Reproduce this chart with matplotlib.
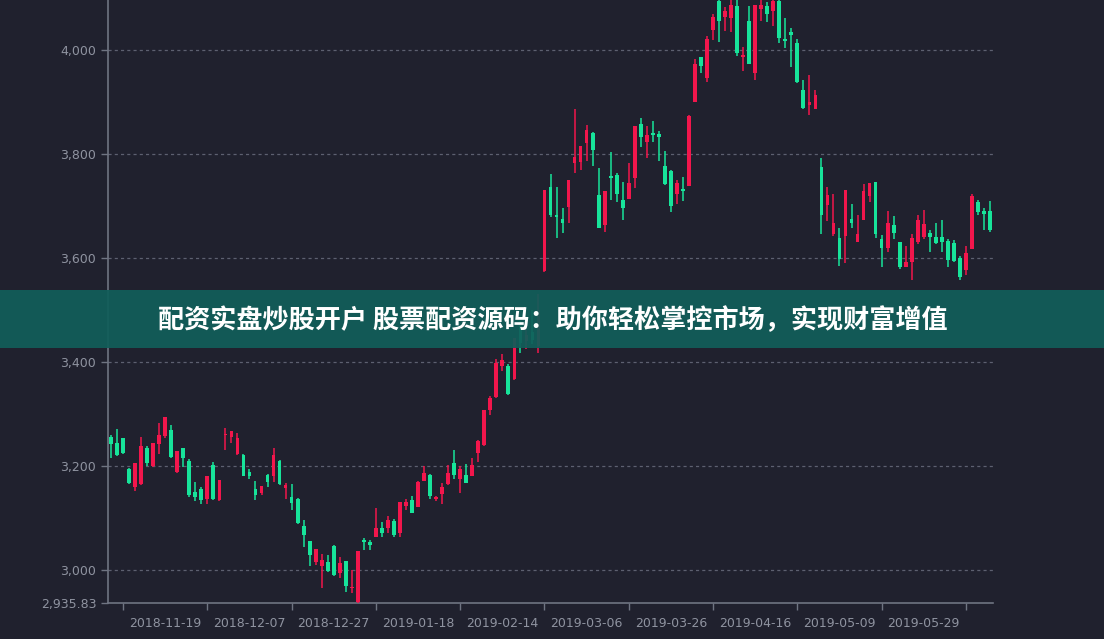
import numpy as np
import matplotlib
matplotlib.use("Agg")
import matplotlib.pyplot as plt
from matplotlib.ticker import FixedLocator, FuncFormatter

# candle data, index = trading day
opens = [3256, 3245, 3253, 3194, 3160, 3165, 3235, 3201, 3242, 3258,
         3269, 3188, 3234, 3210, 3151, 3155, 3136, 3202, 3135, 3260,
         3255, 3223, 3222, 3189, 3155, 3148, 3183, 3180, 3210, 3157,
         3141, 3136, 3085, 3056, 3016, 3008, 3015, 3047, 2994, 3018,
         2965, 2939, 3058, 3053, 3064, 3080, 3081, 3095, 3071, 3123,
         3135, 3122, 3171, 3183, 3136, 3146, 3165, 3205, 3176, 3183,
         3181, 3226, 3240, 3308, 3333, 3392, 3392, 3367, 3470, 3440,
         3458, 3430, 3575, 3736, 3683, 3676, 3699, 3783, 3785, 3822,
         3841, 3721, 3663, 3758, 3760, 3712, 3713, 3753, 3857, 3824,
         3841, 3838, 3777, 3768, 3723, 3732, 3738, 3901, 3986, 3947,
         4038, 4094, 4063, 4061, 4085, 3986, 4056, 3956, 4079, 4085,
         4076, 4094, 4022, 4035, 4014, 3923, 3894, 3886, 3776, 3702,
         3647, 3638, 3642, 3676, 3630, 3674, 3719, 3746, 3636, 3619,
         3664, 3630, 3583, 3593, 3631, 3640, 3649, 3641, 3641, 3633,
         3628, 3601, 3577, 3617, 3708, 3690, 3691]
closes = [3243, 3221, 3226, 3167, 3205, 3239, 3205, 3244, 3260, 3295,
          3217, 3228, 3215, 3144, 3141, 3135, 3180, 3137, 3173, 3262,
          3268, 3253, 3181, 3181, 3144, 3162, 3170, 3221, 3166, 3163,
          3128, 3090, 3067, 3029, 3040, 3019, 2998, 2990, 3013, 2969,
          2968, 3037, 3054, 3048, 3080, 3072, 3096, 3067, 3130, 3130,
          3110, 3170, 3186, 3142, 3141, 3159, 3186, 3183, 3195, 3168,
          3202, 3248, 3308, 3331, 3399, 3403, 3338, 3446, 3437, 3452,
          3443, 3500, 3731, 3683, 3678, 3668, 3750, 3795, 3815, 3847,
          3808, 3657, 3729, 3754, 3723, 3697, 3745, 3853, 3833, 3837,
          3837, 3833, 3742, 3700, 3744, 3729, 3873, 3974, 3970, 4022,
          4063, 4056, 4076, 4086, 3995, 3990, 3974, 4086, 4086, 4070,
          4095, 4024, 4017, 4029, 3939, 3888, 3901, 3913, 3683, 3721,
          3668, 3599, 3731, 3668, 3646, 3728, 3745, 3647, 3619, 3667,
          3649, 3582, 3593, 3638, 3673, 3665, 3640, 3628, 3631, 3596,
          3595, 3564, 3610, 3719, 3689, 3685, 3653]
highs = [3260, 3271, 3254, 3196, 3205, 3255, 3239, 3244, 3282, 3295,
         3279, 3228, 3235, 3213, 3170, 3160, 3180, 3207, 3174, 3273,
         3268, 3264, 3224, 3194, 3171, 3162, 3185, 3234, 3212, 3167,
         3165, 3138, 3097, 3056, 3040, 3030, 3029, 3049, 3026, 3018,
         3000, 3037, 3062, 3058, 3119, 3093, 3104, 3099, 3130, 3137,
         3142, 3172, 3200, 3185, 3142, 3167, 3202, 3230, 3200, 3203,
         3216, 3250, 3308, 3335, 3406, 3415, 3396, 3447, 3478, 3485,
         3500, 3530, 3731, 3762, 3737, 3696, 3750, 3886, 3815, 3856,
         3843, 3774, 3729, 3804, 3763, 3747, 3782, 3853, 3869, 3854,
         3864, 3845, 3806, 3769, 3750, 3755, 3875, 3982, 3986, 4027,
         4070, 4096, 4083, 4096, 4096, 4006, 4085, 4086, 4096, 4093,
         4096, 4096, 4061, 4043, 4022, 3943, 3952, 3923, 3792, 3737,
         3723, 3657, 3731, 3704, 3683, 3742, 3745, 3746, 3644, 3690,
         3680, 3630, 3623, 3647, 3683, 3692, 3654, 3668, 3673, 3636,
         3635, 3603, 3623, 3723, 3712, 3697, 3710]
lows = [3215, 3220, 3224, 3165, 3152, 3163, 3200, 3199, 3224, 3253,
        3215, 3187, 3199, 3141, 3133, 3127, 3127, 3135, 3133, 3230,
        3244, 3221, 3180, 3176, 3135, 3144, 3160, 3170, 3164, 3136,
        3115, 3088, 3045, 3008, 3010, 2966, 2996, 2989, 2984, 2958,
        2955, 2935.83, 3038, 3038, 3064, 3063, 3072, 3064, 3064, 3115,
        3109, 3121, 3171, 3136, 3133, 3127, 3163, 3176, 3148, 3167,
        3180, 3208, 3239, 3299, 3330, 3383, 3337, 3365, 3418, 3425,
        3435, 3418, 3574, 3678, 3638, 3649, 3668, 3764, 3770, 3787,
        3777, 3657, 3651, 3712, 3708, 3674, 3713, 3734, 3814, 3792,
        3824, 3787, 3740, 3689, 3704, 3710, 3738, 3901, 3956, 3939,
        4020, 4016, 4037, 4035, 3988, 3960, 3973, 3942, 4056, 4054,
        4046, 4014, 4003, 3968, 3937, 3886, 3875, 3886, 3647, 3672,
        3642, 3585, 3590, 3657, 3630, 3674, 3708, 3638, 3583, 3612,
        3636, 3578, 3582, 3558, 3627, 3636, 3612, 3627, 3612, 3583,
        3593, 3558, 3567, 3617, 3683, 3654, 3651]

date_labels = ["2018-11-19", "2018-12-07", "2018-12-27", "2019-01-18", "2019-02-14",
               "2019-03-06", "2019-03-26", "2019-04-16", "2019-05-09", "2019-05-29"]
ytick_vals = [2935.83, 3000, 3200, 3400, 3600, 3800, 4000]

bg = "#20212e"
up_col = "#f2164c"
down_col = "#17e49a"
axis_col = "#6f7482"
text_col = "#8f93a0"

plt.rcParams['font.family'] = ['Noto Sans CJK SC', 'DejaVu Sans']

fig = plt.figure(figsize=(11.04, 6.39), dpi=100, facecolor=bg)
ax = fig.add_axes([108/1104, 35.6/639, 885/1104, 603.4/639])
ax.set_facecolor(bg)

o = np.array(opens, dtype=float)
c = np.array(closes, dtype=float)
h = np.array(highs, dtype=float)
l = np.array(lows, dtype=float)
x = np.arange(len(o))
cols = [up_col if cc >= oo else down_col for oo, cc in zip(o, c)]

ax.vlines(x, l, h, colors=cols, linewidth=1.1, zorder=3)
body_h = np.maximum(np.abs(c - o), 2.0)
ax.bar(x, body_h, bottom=np.minimum(o, c), width=0.62, color=cols, linewidth=0, zorder=4)

ax.set_xlim(-0.5, len(o) - 0.5)
ax.set_ylim(2935.83, 4096.2)

# grid
for v in ytick_vals[1:]:
    ax.axhline(v, color="#5d6070", linewidth=0.9, linestyle=(0, (2.5, 2.5)), zorder=1)

for s in ["top", "right"]:
    ax.spines[s].set_visible(False)
for s in ["left", "bottom"]:
    ax.spines[s].set_color(axis_col)
    ax.spines[s].set_linewidth(1.2)

ax.yaxis.set_major_locator(FixedLocator(ytick_vals))
ax.yaxis.set_major_formatter(FuncFormatter(lambda v, p: "2,935.83" if v < 2950 else f"{v:,.0f}"))
ax.tick_params(axis="y", colors=axis_col, labelcolor=text_col, labelsize=9, length=5, width=1)

lbl_pos = [9 + 14 * i for i in range(len(date_labels))]
ax.set_xticks(lbl_pos)
ax.set_xticklabels(date_labels, fontfamily="DejaVu Sans")
ax.set_xticks([2 + 14 * i for i in range(11)], minor=True)
ax.tick_params(axis="x", which="major", length=0, pad=10, labelcolor=text_col, labelsize=9)
ax.tick_params(axis="x", which="minor", length=5, width=1, color=axis_col)
for t in ax.get_yticklabels():
    t.set_fontfamily("DejaVu Sans")

# banner over the middle
fig.patches.append(plt.Rectangle((0, 1 - 348/639), 1, 58/639, transform=fig.transFigure,
                                 facecolor="#115e5a", alpha=0.93, zorder=10, figure=fig))
fig.text(0.501, 1 - 321/639, "配资实盘炒股开户 股票配资源码：助你轻松掌控市场，实现财富增值",
         ha="center", va="center", color="white", fontsize=18.8, fontweight="bold", zorder=11)

fig.savefig("out.png", dpi=100, facecolor=bg)
